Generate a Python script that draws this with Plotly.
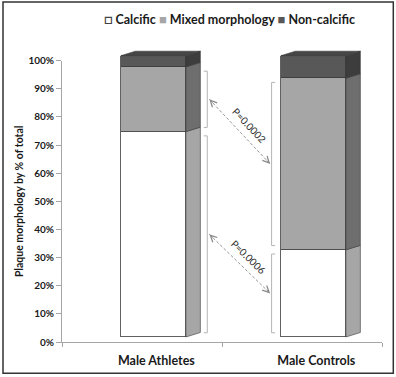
import math
import plotly.graph_objects as go

# ---------------- data ----------------
categories = ["Male Athletes", "Male Controls"]
series_names = ["Calcific", "Mixed morphology", "Non-calcific"]
calcific = [73, 31]
mixed = [23, 61]
non_calcific = [4, 8]
y_tick_values = [0, 10, 20, 30, 40, 50, 60, 70, 80, 90, 100]
y_tick_labels = [f"{v}%" for v in y_tick_values]
p_labels = {"Mixed morphology": "P=0.0002", "Calcific": "P=0.0006"}

# ---------------- styles ----------------
FONT = "Lato, 'Open Sans', sans-serif"
front_colors = ["#ffffff", "#a6a6a6", "#585858"]
side_colors = ["#a6a6a6", "#6e6e6e", "#3d3d3d"]
top_color = "#464646"
edge = "#3a3a3a"

W, H = 396, 377
L, R, T, B = 62, 14, 8, 35
plot_w = W - L - R
plot_h = H - T - B
X_MIN, X_MAX = -0.571, 1.429
PX_X = plot_w / (X_MAX - X_MIN)
Y_TOP_PX = 60.7                      # pixel of 100% tick
y_dom_top = (H - B - Y_TOP_PX) / plot_h
PX_Y = (H - B - Y_TOP_PX) / 100.0
FRONT_LIFT = 5.0                     # 3-D front face sits above floor line
y2_range = [-FRONT_LIFT / PX_Y, (plot_h - FRONT_LIFT) / PX_Y]

BW = 65 / PX_X
DX = 14.5 / PX_X
DY = 4.5 / PX_Y

series = [calcific, mixed, non_calcific]
xpos = list(range(len(categories)))

fig = go.Figure()

# empty trace so the percentage axis subplot is created
fig.add_trace(go.Scatter(x=[None], y=[None], xaxis="x", yaxis="y", mode="lines",
                         showlegend=False, hoverinfo="skip"))

# front faces (stacked bars)
for name, vals, col in zip(series_names, series, front_colors):
    fig.add_trace(go.Bar(
        x=xpos, y=vals, name=name, width=BW, xaxis="x", yaxis="y2",
        marker=dict(color=col, line=dict(color=edge, width=0.8)),
        showlegend=False, hoverinfo="skip"))

# side and top faces
segments = {}
for i, xc in enumerate(xpos):
    base = 0
    xl, xr = xc - BW / 2, xc + BW / 2
    for k, vals in enumerate(series):
        lo, hi = base, base + vals[i]
        segments[(i, series_names[k])] = (lo, hi)
        fig.add_trace(go.Scatter(
            x=[xr, xr + DX, xr + DX, xr, xr],
            y=[lo, lo + DY, hi + DY, hi, lo],
            xaxis="x", yaxis="y2", mode="lines", fill="toself",
            fillcolor=side_colors[k], line=dict(color=edge, width=0.6),
            showlegend=False, hoverinfo="skip"))
        base = hi
    top = base
    fig.add_trace(go.Scatter(
        x=[xl, xl + DX, xr + DX, xr, xl],
        y=[top, top + DY, top + DY, top, top],
        xaxis="x", yaxis="y2", mode="lines", fill="toself",
        fillcolor=top_color, line=dict(color=edge, width=0.6),
        showlegend=False, hoverinfo="skip"))

# brackets + dashed arrows with p-values
shapes = []
annotations = []
BRK_A = 0.337          # bracket x, right of athletes bar
BRK_C = 0.739          # bracket x, left of controls bar
HOOK = 3.5 / PX_X
INSET = 1.5
br_col = "#b4b4b4"
for i, bx, hook in [(0, BRK_A, -HOOK), (1, BRK_C, HOOK)]:
    for nm in ["Calcific", "Mixed morphology"]:
        lo, hi = segments[(i, nm)]
        lo += INSET
        hi -= INSET
        shapes.append(dict(type="path", xref="x", yref="y2",
                           path=f"M{bx+hook},{lo} L{bx},{lo} L{bx},{hi} L{bx+hook},{hi}",
                           line=dict(color=br_col, width=1)))

ARR_A = BRK_A + 0.013
ARR_C = BRK_C - 0.009
for nm in ["Mixed morphology", "Calcific"]:
    lo_a, hi_a = segments[(0, nm)]
    lo_c, hi_c = segments[(1, nm)]
    ya = (lo_a + hi_a) / 2
    yc = (lo_c + hi_c) / 2
    shapes.append(dict(type="line", xref="x", yref="y2", x0=ARR_A, y0=ya, x1=ARR_C, y1=yc,
                       line=dict(color="#8a8a8a", width=0.9, dash="3px,2px")))
    dxp = (ARR_C - ARR_A) * PX_X
    dyp = (ya - yc) * PX_Y       # screen-down positive
    ln = math.hypot(dxp, dyp)
    ux, uy = dxp / ln, dyp / ln
    for (hx, hy, sgn) in [(ARR_A, ya, 1), (ARR_C, yc, -1)]:
        annotations.append(dict(x=hx, y=hy, xref="x", yref="y2", text="", showarrow=True,
                                ax=sgn * 7 * ux, ay=sgn * 7 * uy, arrowhead=5, arrowsize=1.6,
                                arrowwidth=0.8, arrowcolor="#8a8a8a", standoff=0, startstandoff=0))
    ang = math.degrees(math.atan2(dyp, dxp))
    off = 10
    annotations.append(dict(x=(ARR_A + ARR_C) / 2, y=(ya + yc) / 2, xref="x", yref="y2",
                            text=p_labels[nm], showarrow=False, textangle=ang,
                            xshift=off * uy + 2, yshift=off * ux,
                            font=dict(family=FONT, size=10, color="#2a2a2a")))

# legend (text line at top)
legend_text = ("<span style='color:#444444;font-size:14px'>□</span> Calcific "
               "<span style='color:#a6a6a6;font-size:13px'>■</span> Mixed morphology "
               "<span style='color:#585858;font-size:13px'>■</span> Non-calcific")
annotations.append(dict(x=(229 - L) / plot_w, y=(H - B - 19) / plot_h, xref="paper", yref="paper",
                        text=legend_text, showarrow=False, xanchor="center", yanchor="middle",
                        font=dict(family=FONT, size=12.5, color="#1a1a1a", weight="bold")))

# outer frame
shapes.append(dict(type="rect", xref="paper", yref="paper",
                   x0=(3 - L) / plot_w, x1=(393.3 - L) / plot_w,
                   y0=(H - B - 373.3) / plot_h, y1=(H - B - 2) / plot_h,
                   line=dict(color="#333333", width=1.5), layer="above"))

fig.update_layout(
    width=W, height=H,
    margin=dict(l=L, r=R, t=T, b=B, autoexpand=False),
    paper_bgcolor="white", plot_bgcolor="rgba(0,0,0,0)",
    barmode="stack", bargap=0, showlegend=False,
    font=dict(family=FONT, color="#1a1a1a"),
    xaxis=dict(domain=[0, 1], range=[X_MIN, X_MAX], anchor="y",
               tickmode="array", tickvals=xpos, ticktext=categories, ticks="",
               showline=True, linecolor="#a6a6a6", linewidth=1,
               showgrid=False, zeroline=False, ticklabelstandoff=7, ticklabelshift=3,
               tickfont=dict(family=FONT, size=12.5, color="#1a1a1a", weight="bold"),
               minor=dict(tickmode="array", tickvals=[X_MIN, (X_MIN + X_MAX) / 2, X_MAX],
                          ticks="outside", ticklen=4, tickcolor="#a6a6a6", showgrid=False)),
    yaxis=dict(domain=[0, y_dom_top], range=[0, 100], anchor="x",
               tickmode="array", tickvals=y_tick_values, ticktext=y_tick_labels,
               ticks="outside", ticklen=5, tickcolor="#a6a6a6",
               showline=True, linecolor="#a6a6a6", linewidth=1,
               showgrid=False, zeroline=False,
               tickfont=dict(family=FONT, size=10, color="#1a1a1a", weight="bold"),
               title=dict(text="Plaque morphology by % of total", standoff=2,
                          font=dict(family=FONT, size=10.5, color="#1a1a1a", weight="bold"))),
    yaxis2=dict(domain=[0, 1], range=y2_range, anchor="x", visible=False),
    shapes=shapes, annotations=annotations,
)

fig.write_html("out.html", config={"displayModeBar": False},
               post_script="document.body.style.margin='0';")
